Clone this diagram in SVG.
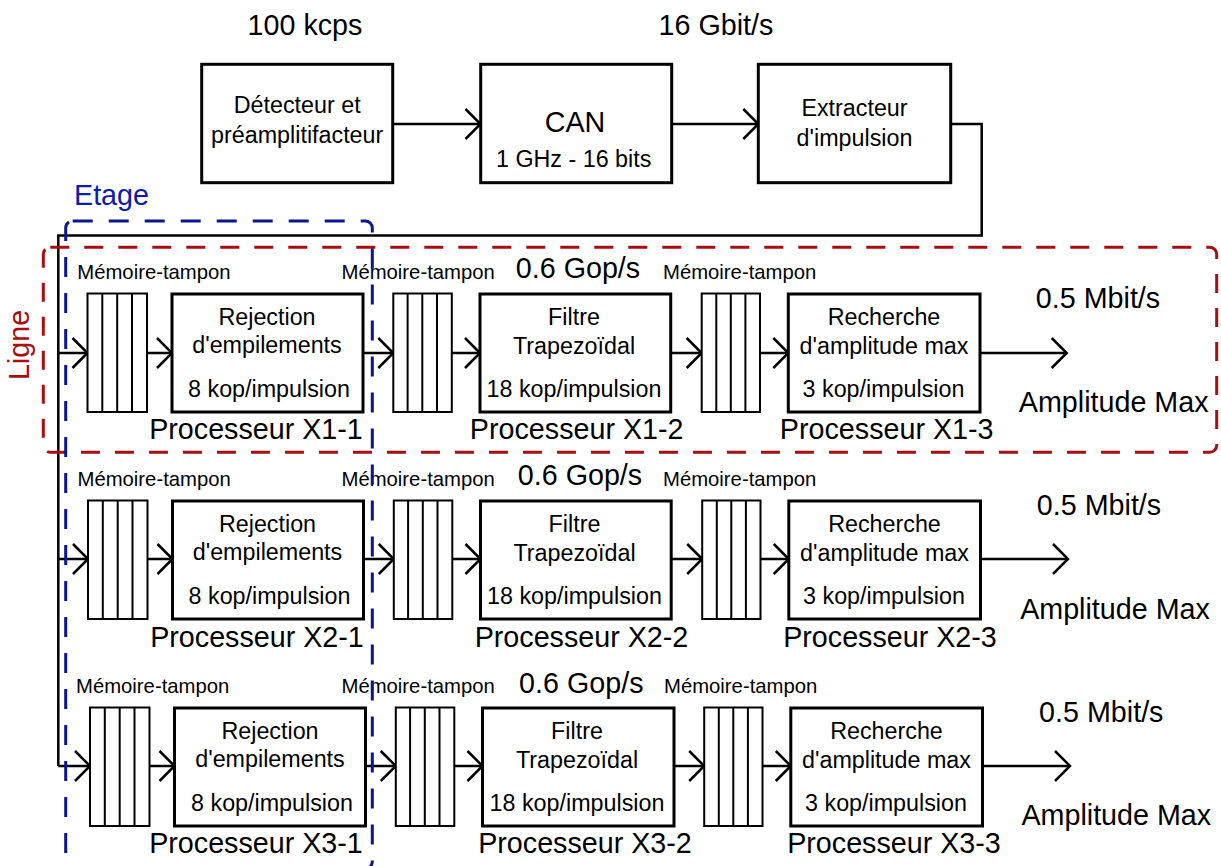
<svg xmlns="http://www.w3.org/2000/svg" width="1221" height="866" viewBox="0 0 1221 866">
<defs>
<style>
text{font-family:"Liberation Sans",Arial,sans-serif;fill:#000}
.big{font-size:28.7px}
.mid{font-size:23.3px}
.sm{font-size:20.3px}
.c{text-anchor:middle}
.box{fill:#fff;stroke:#000;stroke-width:3}
.buf{fill:#fff;stroke:#000;stroke-width:2}
.wire{fill:none;stroke:#000;stroke-width:2.5}
.arr{fill:none;stroke:#000;stroke-width:2.5;marker-end:url(#ah)}
.red{fill:none;stroke:#a50f0f;stroke-width:3;stroke-dasharray:19 15}
.blue{fill:none;stroke:#0a1590;stroke-width:3;stroke-dasharray:20 16}
</style>
<marker id="ah" markerUnits="userSpaceOnUse" viewBox="-18 -18 20 36" markerWidth="20" markerHeight="36" refX="0" refY="0" orient="auto">
<path d="M-15,-15 L0,0 L-15,15" fill="none" stroke="#000" stroke-width="2.5"/>
</marker>
</defs>
<rect width="1221" height="866" fill="#fff"/>

<!-- top labels -->
<text class="big c" x="305" y="35">100 kcps</text>
<text class="big c" x="716" y="35">16 Gbit/s</text>

<!-- connectors -->
<g id="connectors">
<line class="arr" x1="392.7" y1="124" x2="480.5" y2="124"/>
<line class="arr" x1="671.7" y1="124" x2="758.3" y2="124"/>
<path class="wire" d="M950.7,124 H981.7 V235.5 H58.3 V766"/>
<!-- row 1 -->
<line class="arr" x1="58.3" y1="353" x2="87.5" y2="353"/>
<line class="arr" x1="147" y1="353" x2="172" y2="353"/>
<line class="arr" x1="363" y1="353" x2="393.3" y2="353"/>
<line class="arr" x1="451.8" y1="353" x2="480" y2="353"/>
<line class="arr" x1="670.7" y1="353" x2="701.7" y2="353"/>
<line class="arr" x1="760" y1="353" x2="788.3" y2="353"/>
<line class="arr" x1="980" y1="353" x2="1066.7" y2="353"/>
<!-- row 2 -->
<line class="arr" x1="58.3" y1="559" x2="88" y2="559"/>
<line class="arr" x1="147.5" y1="559" x2="172.5" y2="559"/>
<line class="arr" x1="363.5" y1="559" x2="393.8" y2="559"/>
<line class="arr" x1="452.3" y1="559" x2="480.5" y2="559"/>
<line class="arr" x1="671.2" y1="559" x2="702.2" y2="559"/>
<line class="arr" x1="760.5" y1="559" x2="788.8" y2="559"/>
<line class="arr" x1="980.5" y1="559" x2="1068" y2="559"/>
<!-- row 3 -->
<line class="arr" x1="58.3" y1="766" x2="90" y2="766"/>
<line class="arr" x1="149.5" y1="766" x2="174.5" y2="766"/>
<line class="arr" x1="365.5" y1="766" x2="395.8" y2="766"/>
<line class="arr" x1="454.3" y1="766" x2="482.5" y2="766"/>
<line class="arr" x1="673.2" y1="766" x2="704.2" y2="766"/>
<line class="arr" x1="762.5" y1="766" x2="790.8" y2="766"/>
<line class="arr" x1="982.5" y1="766" x2="1070" y2="766"/>
</g>

<!-- top nodes -->
<g id="detecteur">
<rect class="box" x="201.7" y="64.3" width="191" height="118.4"/>
<text class="mid c" x="297.2" y="113.3">Détecteur et</text>
<text class="mid c" x="297.2" y="143">préamplitifacteur</text>
</g>
<g id="can">
<rect class="box" x="480.7" y="64.3" width="191" height="118.4"/>
<text class="big c" x="575" y="131.7">CAN</text>
<text class="mid c" x="573.7" y="166.7">1 GHz - 16 bits</text>
</g>
<g id="extracteur">
<rect class="box" x="758.3" y="64.3" width="192.4" height="118.4"/>
<text class="mid c" x="854.5" y="116">Extracteur</text>
<text class="mid c" x="854.5" y="145.7">d'impulsion</text>
</g>

<!-- row 1 -->
<g id="buf-X1-1">
<text class="sm" x="77.3" y="279">Mémoire-tampon</text>
<rect class="buf" x="87.5" y="293.5" width="59.5" height="118.5"/>
<path class="buf" d="M102.3,293.5V412M117.2,293.5V412M132,293.5V412"/>
</g>
<g id="proc-X1-1">
<rect class="box" x="172" y="294" width="191" height="118"/>
<text class="mid c" x="267" y="325">Rejection</text>
<text class="mid c" x="267" y="353">d'empilements</text>
<text class="mid c" x="269" y="397">8 kop/impulsion</text>
<text class="big c" x="256" y="439.3">Processeur X1-1</text>
</g>
<g id="buf-X1-2">
<text class="sm" x="341.5" y="279">Mémoire-tampon</text>
<rect class="buf" x="393.3" y="293.5" width="58.5" height="118.5"/>
<path class="buf" d="M407.6,293.5V412M422.3,293.5V412M437,293.5V412"/>
</g>
<text class="big c" x="578" y="278">0.6 Gop/s</text>
<g id="proc-X1-2">
<rect class="box" x="480" y="294" width="190.7" height="118"/>
<text class="mid c" x="574" y="325">Filtre</text>
<text class="mid c" x="574" y="354">Trapezoïdal</text>
<text class="mid c" x="574" y="397">18 kop/impulsion</text>
<text class="big c" x="576.7" y="439.3">Processeur X1-2</text>
</g>
<g id="buf-X1-3">
<text class="sm" x="663" y="279">Mémoire-tampon</text>
<rect class="buf" x="701.7" y="293.5" width="58.3" height="118.5"/>
<path class="buf" d="M716.3,293.5V412M730.8,293.5V412M745.4,293.5V412"/>
</g>
<g id="proc-X1-3">
<rect class="box" x="788.3" y="294" width="191.7" height="118"/>
<text class="mid c" x="884" y="325">Recherche</text>
<text class="mid c" x="884" y="354">d'amplitude max</text>
<text class="mid c" x="883.5" y="397">3 kop/impulsion</text>
<text class="big c" x="886.7" y="439.3">Processeur X1-3</text>
</g>
<g id="out-1">
<text class="big c" x="1098" y="308.3">0.5 Mbit/s</text>
<text class="big c" x="1113.7" y="411.7">Amplitude Max</text>
</g>

<!-- row 2 -->
<g id="buf-X2-1">
<text class="sm" x="77.5" y="486">Mémoire-tampon</text>
<rect class="buf" x="88" y="500.5" width="59.5" height="118.5"/>
<path class="buf" d="M102.8,500.5V619M117.7,500.5V619M132.5,500.5V619"/>
</g>
<g id="proc-X2-1">
<rect class="box" x="172.5" y="501" width="191" height="118"/>
<text class="mid c" x="267.5" y="532">Rejection</text>
<text class="mid c" x="267.5" y="560">d'empilements</text>
<text class="mid c" x="269.5" y="604">8 kop/impulsion</text>
<text class="big c" x="257" y="646.5">Processeur X2-1</text>
</g>
<g id="buf-X2-2">
<text class="sm" x="341.5" y="486">Mémoire-tampon</text>
<rect class="buf" x="393.8" y="500.5" width="58.5" height="118.5"/>
<path class="buf" d="M408.1,500.5V619M422.8,500.5V619M437.5,500.5V619"/>
</g>
<text class="big c" x="580" y="485">0.6 Gop/s</text>
<g id="proc-X2-2">
<rect class="box" x="480.5" y="501" width="190.7" height="118"/>
<text class="mid c" x="574.5" y="532">Filtre</text>
<text class="mid c" x="574.5" y="561">Trapezoïdal</text>
<text class="mid c" x="574.5" y="604">18 kop/impulsion</text>
<text class="big c" x="581.5" y="646.5">Processeur X2-2</text>
</g>
<g id="buf-X2-3">
<text class="sm" x="663" y="486">Mémoire-tampon</text>
<rect class="buf" x="702.2" y="500.5" width="58.3" height="118.5"/>
<path class="buf" d="M716.8,500.5V619M731.3,500.5V619M745.9,500.5V619"/>
</g>
<g id="proc-X2-3">
<rect class="box" x="788.8" y="501" width="191.7" height="118"/>
<text class="mid c" x="884.5" y="532">Recherche</text>
<text class="mid c" x="884.5" y="561">d'amplitude max</text>
<text class="mid c" x="884" y="604">3 kop/impulsion</text>
<text class="big c" x="890" y="646.5">Processeur X2-3</text>
</g>
<g id="out-2">
<text class="big c" x="1099" y="515">0.5 Mbit/s</text>
<text class="big c" x="1115" y="618.5">Amplitude Max</text>
</g>

<!-- row 3 -->
<g id="buf-X3-1">
<text class="sm" x="76" y="693">Mémoire-tampon</text>
<rect class="buf" x="90" y="707.5" width="59.5" height="118.5"/>
<path class="buf" d="M104.8,707.5V826M119.7,707.5V826M134.5,707.5V826"/>
</g>
<g id="proc-X3-1">
<rect class="box" x="174.5" y="708" width="191" height="118"/>
<text class="mid c" x="270" y="739">Rejection</text>
<text class="mid c" x="270" y="767">d'empilements</text>
<text class="mid c" x="272" y="811">8 kop/impulsion</text>
<text class="big c" x="256" y="853">Processeur X3-1</text>
</g>
<g id="buf-X3-2">
<text class="sm" x="341.5" y="693">Mémoire-tampon</text>
<rect class="buf" x="395.8" y="707.5" width="58.5" height="118.5"/>
<path class="buf" d="M410.1,707.5V826M424.8,707.5V826M439.5,707.5V826"/>
</g>
<text class="big c" x="581.3" y="693">0.6 Gop/s</text>
<g id="proc-X3-2">
<rect class="box" x="482.5" y="708" width="191.5" height="118"/>
<text class="mid c" x="577" y="739">Filtre</text>
<text class="mid c" x="577" y="768">Trapezoïdal</text>
<text class="mid c" x="577" y="811">18 kop/impulsion</text>
<text class="big c" x="585" y="853">Processeur X3-2</text>
</g>
<g id="buf-X3-3">
<text class="sm" x="664" y="693">Mémoire-tampon</text>
<rect class="buf" x="704.2" y="707.5" width="58.3" height="118.5"/>
<path class="buf" d="M718.8,707.5V826M733.3,707.5V826M747.9,707.5V826"/>
</g>
<g id="proc-X3-3">
<rect class="box" x="790.8" y="708" width="191.7" height="118"/>
<text class="mid c" x="886.5" y="739">Recherche</text>
<text class="mid c" x="886.5" y="768">d'amplitude max</text>
<text class="mid c" x="886" y="811">3 kop/impulsion</text>
<text class="big c" x="894" y="853">Processeur X3-3</text>
</g>
<g id="out-3">
<text class="big c" x="1101.3" y="722">0.5 Mbit/s</text>
<text class="big c" x="1116.3" y="825">Amplitude Max</text>
</g>

<!-- grouping frames -->
<g id="ligne">
<rect class="red" x="43.3" y="247.3" width="1173.4" height="205" rx="7"/>
<text class="big c" transform="translate(28.5,345) rotate(-90)" style="fill:#a50f0f">Ligne</text>
</g>
<g id="etage">
<rect class="blue" x="65.7" y="221" width="306.6" height="647.5" rx="7"/>
<text class="big" x="74" y="205" style="fill:#0c1bb0">Etage</text>
</g>
</svg>
